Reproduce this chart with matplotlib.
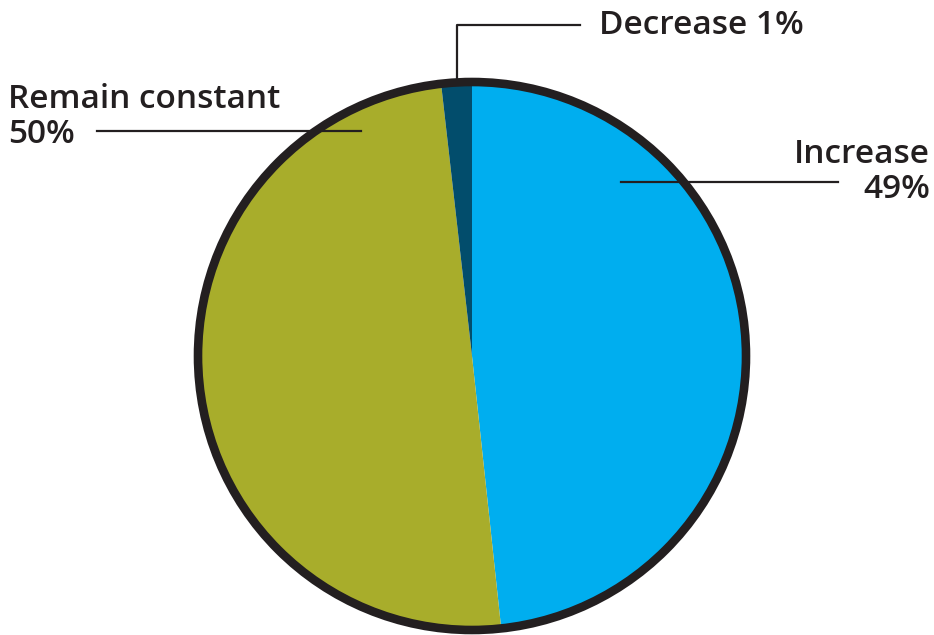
import matplotlib.pyplot as plt
from matplotlib.patches import Circle

# data
labels = ["Increase", "Remain constant", "Decrease"]
pct_text = ["49%", "50%", "1%"]
sizes = [48.3, 49.9, 1.8]
colors = ["#00AEEF", "#A8AD2B", "#024D6C"]

dark = "#231F20"
W, H = 934, 635

fig = plt.figure(figsize=(9.34, 6.35), dpi=100)
ax = fig.add_axes([0, 0, 1, 1])

cx, cy, r = 472, H - 356, 274
ax.pie(sizes, colors=colors, startangle=90, counterclock=False,
       center=(cx, cy), radius=r, wedgeprops=dict(linewidth=0), frame=True)
ax.add_patch(Circle((cx, cy), r, fill=False, ec=dark, lw=6.2, zorder=5))
ax.set_xlim(0, W)
ax.set_ylim(0, H)
ax.set_aspect("equal")
ax.axis("off")

def y(py):
    return H - py

font = dict(family=["Open Sans", "DejaVu Sans"], fontweight=600, color=dark, fontsize=24)

# leader lines
ax.plot([457, 457, 580], [y(78), y(25), y(25)], color=dark, lw=1.6, zorder=6)
ax.plot([97, 361], [y(131), y(131)], color=dark, lw=1.6, zorder=6)
ax.plot([621, 838], [y(182), y(182)], color=dark, lw=1.6, zorder=6)

ax.text(599, y(34), labels[2] + " " + pct_text[2], ha="left", va="baseline", **font)
ax.text(8, y(108), labels[1], ha="left", va="baseline", **font)
ax.text(8, y(143), pct_text[1], ha="left", va="baseline", **font)
ax.text(930, y(163), labels[0], ha="right", va="baseline", **font)
ax.text(930, y(198), pct_text[0], ha="right", va="baseline", **font)

fig.savefig("out.png", dpi=100)
